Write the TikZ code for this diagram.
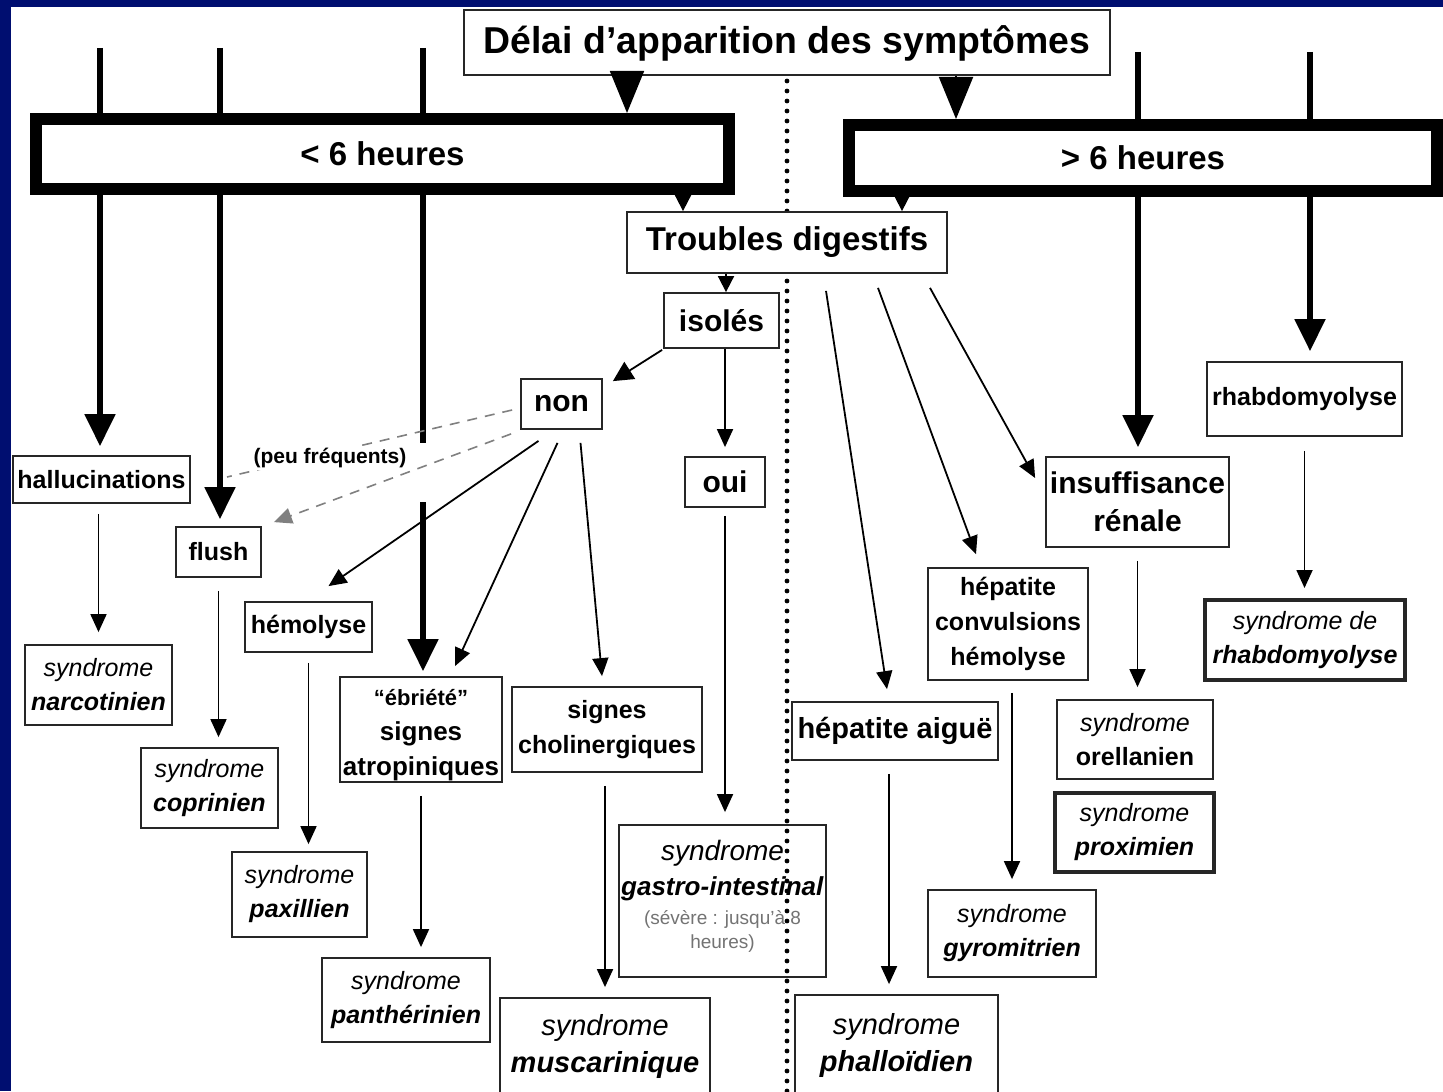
\documentclass[tikz,border=0pt]{standalone}
\usepackage{fontspec}
\setmainfont{Liberation Sans}
\usetikzlibrary{arrows.meta}
\definecolor{slideblue}{RGB}{0,14,112}
\newcommand\fz[2]{\fontsize{#1}{#2}\selectfont}
\newcommand\syn[1]{\textit{syndrome}\\\textbf{\textit{#1}}}
\newcommand\mybox[7][]{\node[bxs,minimum width={(#5-#3)*0.5pt},minimum height={(#6-#4)*0.5pt},#1] (#2) at ({(#3+#5)/2},{(#4+#6)/2}) {#7};}
\begin{document}
\begin{tikzpicture}[x=0.5pt,y=-0.5pt,
  bxs/.style={draw=black!85,fill=white,line width=0.9pt,inner sep=0pt,align=center},
  thk/.style={line width=2.6pt},
  thka/.style={line width=2.6pt,-{Triangle[width=15pt,length=16pt]}},
  thn/.style={line width=0.9pt,-{Triangle[width=8pt,length=9pt]}},
  sml/.style={line width=0.9pt,-{Triangle[width=8pt,length=8pt]}},
  big/.style={line width=0.9pt,-{Triangle[width=17pt,length=21pt]}},
  dsh/.style={draw=black!50,line width=0.8pt,dash pattern=on 5pt off 4pt},
  dotline/.style={line width=2.4pt,line cap=round,dash pattern=on 0pt off 5pt},
  fa/.style={font=\fz{12.5}{17.5}\bfseries},
  fs/.style={font=\fz{12.5}{17}},
  fl/.style={font=\fz{14.5}{18.5}},
]
\useasboundingbox (0,0) rectangle (1443,1091);
\clip (0,0) rectangle (1443,1091);
\fill[slideblue] (0,0) rectangle (1443,1091);
\fill[white] (11,7) rectangle (1443,1091);

\mybox[font=\fz{18.7}{22}\bfseries,line width=1pt,text height=15pt]{title}{464}{10}{1110}{75}{Délai d’apparition des symptômes}
\coordinate (bot) at (787,1100);
\draw[dotline] ([yshift=-2.5pt]title.south) -- (bot);

\mybox[font=\fz{16.5}{19}\bfseries,line width=6pt,draw=black]{lt6}{36}{119}{729}{189}{< 6 heures}
\mybox[font=\fz{16.5}{19}\bfseries,line width=6pt,draw=black]{gt6}{849}{125}{1437}{191}{> 6 heures}
\mybox[font=\fz{16.5}{19}\bfseries]{trb}{627}{212}{947}{273}{Troubles digestifs}
\mybox[font=\fz{15}{18}\bfseries]{iso}{664}{293}{779}{348}{isolés}
\mybox[font=\fz{15}{18}\bfseries]{non}{521}{379}{602}{429}{non}
\mybox[font=\fz{15}{18}\bfseries]{oui}{685}{457}{765}{507}{oui}
\mybox[fa]{hal}{13}{456}{190}{503}{hallucinations}
\mybox[fa]{flu}{176}{527}{261}{577}{flush}
\mybox[fa]{hem}{245}{602}{372}{652}{hémolyse}
\mybox[font=\fz{13}{17.5}\bfseries]{ebr}{340}{677}{502}{782}{{\fz{11}{17}“ébriété”\rule{0pt}{14pt}}\\signes\\atropiniques}
\mybox[fa]{cho}{512}{687}{702}{772}{signes\\cholinergiques}
\mybox[fs]{nar}{25}{645}{172}{725}{\syn{narcotinien}}
\mybox[fs]{cop}{141}{748}{278}{828}{\syn{coprinien}}
\mybox[fs]{pax}{232}{852}{367}{937}{\syn{paxillien}}
\mybox[fs]{pan}{322}{958}{490}{1042}{\syn{panthérinien}}
\mybox[fl]{mus}{500}{998}{710}{1095}{\syn{muscarinique}}
\mybox[fill=none,font=\fz{13}{17.5},text depth=7pt]{gas}{619}{825}{826}{977}{{\fz{14}{17.5}\textit{syndrome}}\\\textbf{\textit{gastro-intestinal}}\\[-3pt]{\fz{9.5}{12}\color{black!55}(sévère : jusqu’à 8}\\[-5.5pt]{\fz{9.5}{12}\color{black!55}heures)}}
\mybox[font=\fz{15}{19}\bfseries]{ins}{1046}{457}{1229}{547}{insuffisance\\rénale}
\mybox[fa]{rha}{1207}{362}{1402}{436}{rhabdomyolyse}
\mybox[fs,line width=2pt]{srh}{1205}{600}{1405}{680}{\textit{syndrome de}\\\textbf{\textit{rhabdomyolyse}}}
\mybox[fs]{ore}{1057}{700}{1213}{779}{\textit{syndrome}\\\textbf{orellanien}}
\mybox[fs,line width=2.2pt]{pro}{1055}{793}{1214}{872}{\syn{proximien}}
\mybox[fa]{hcv}{928}{568}{1088}{680}{hépatite\\convulsions\\hémolyse}
\mybox[fs]{gyr}{928}{890}{1096}{977}{\syn{gyromitrien}}
\mybox[font=\fz{14.5}{18}\bfseries]{hai}{792}{702}{998}{760}{hépatite aiguë}
\mybox[fl]{pha}{795}{995}{998}{1095}{\syn{phalloïdien}}

% big triangles from title
\coordinate (t1) at ([xshift=-80pt]title.south);
\coordinate (t2) at ([xshift=84.5pt]title.south);
\draw[big] (t1) -- (t1 |- lt6.north);
\draw[big] (t2) -- (t2 |- gt6.north);
% small triangles
\coordinate (m1) at ([xshift=-52pt]trb.north);
\coordinate (m2) at ([xshift=57.5pt]trb.north);
\coordinate (m3) at ([xshift=2.25pt]iso.north);
\draw[sml] (m1 |- lt6.south) -- (m1);
\draw[sml] (m2 |- gt6.south) -- (m2);
\draw[sml] (m3 |- trb.south) -- (m3);

% thick lines
\coordinate (s1) at (100,48);
\coordinate (s2) at (220,48);
\coordinate (s3) at (423,48);
\coordinate (s4) at (1138,52);
\coordinate (s5) at (1310,52);
\foreach \s in {s1,s2,s3} \draw[thk] (\s) -- (\s |- lt6.north);
\foreach \s in {s4,s5} \draw[thk] (\s) -- (\s |- gt6.north);
\draw[thka,shorten >=4.5pt] (s1 |- lt6.south) -- (s1 |- hal.north);
\draw[thka,shorten >=3.5pt] (s2 |- lt6.south) -- (s2 |- flu.north);
\coordinate (g1) at (423,443);
\coordinate (g2) at (423,502);
\draw[thk] (s3 |- lt6.south) -- (g1);
\draw[thka,shorten >=2.5pt] (g2) -- (s3 |- ebr.north);
\draw[thka,shorten >=4.5pt] (s4 |- gt6.south) -- (s4 |- ins.north);
\draw[thka,shorten >=5pt] (s5 |- gt6.south) -- (s5 |- rha.north);

% thin vertical arrows
\draw[thn,shorten <=5pt,shorten >=6pt] (hal.south -| nar.north) -- (nar.north);
\draw[thn,shorten <=6.5pt,shorten >=5pt] (flu.south) -- (flu.south |- cop.north);
\draw[thn,shorten <=5pt,shorten >=3.5pt] (hem.south) -- (hem.south |- pax.north);
\draw[thn,shorten <=6.5pt,shorten >=5pt] (ebr.south) -- (ebr.south |- pan.north);
\draw[thn,shorten <=6.5pt,shorten >=5pt] (cho.south -| mus.north) -- (mus.north);
\draw[thn,shorten >=4.5pt] (iso.south -| oui.north) -- (oui.north);
\draw[thn,shorten <=4pt,shorten >=6pt] (oui.south) -- (oui.south |- gas.north);
\draw[thn,shorten <=6.5pt,shorten >=6pt] (ins.south) -- (ins.south |- ore.north);
\draw[thn,shorten <=7pt,shorten >=5pt] (rha.south) -- (rha.south |- srh.north);
\draw[thn,shorten <=6pt,shorten >=5pt] (hcv.south -| gyr.north) -- (gyr.north);
\coordinate (h1) at ([xshift=-3pt]hai.south);
\draw[thn,shorten <=6.5pt,shorten >=5pt] (h1) -- (h1 |- pha.north);

% diagonal arrows right
\draw[thn] ([shift={(39,17)}]trb.south) -- ([shift={(-8,-12)}]hai.north);
\draw[thn] ([shift={(91,14)}]trb.south) -- ([shift={(-32,-13)}]hcv.north);
\draw[thn] ([shift={(143,14)}]trb.south) -- ([shift={(-10,-24)}]ins.west);

% from isolés / non
\draw[line width=0.9pt,-{Triangle[width=10pt,length=10pt]}] ([shift={(-1,1)}]iso.south west) -- ([shift={(10,3)}]non.north east);
\draw[thn] ([shift={(-23,11)}]non.south) -- ([shift={(20,-15)}]hem.north);
\draw[thn] ([shift={(-4,13)}]non.south) -- ([shift={(34,-10)}]ebr.north);
\draw[thn] ([shift={(19,13)}]non.south) -- ([shift={(-5,-10)}]cho.north);
\coordinate (dend) at (227,477);
\draw[dsh] ([shift={(-8,6)}]non.west) -- (dend);
\draw[dsh,-{Triangle[width=8pt,length=9pt]}] ([shift={(-9,4)}]non.south west) -- ([shift={(12,-4)}]flu.north east);
\node[font=\fz{10.5}{12}\bfseries,fill=white,inner sep=1pt] (peu) at (330,458) {(peu fréquents)};
\end{tikzpicture}
\end{document}
